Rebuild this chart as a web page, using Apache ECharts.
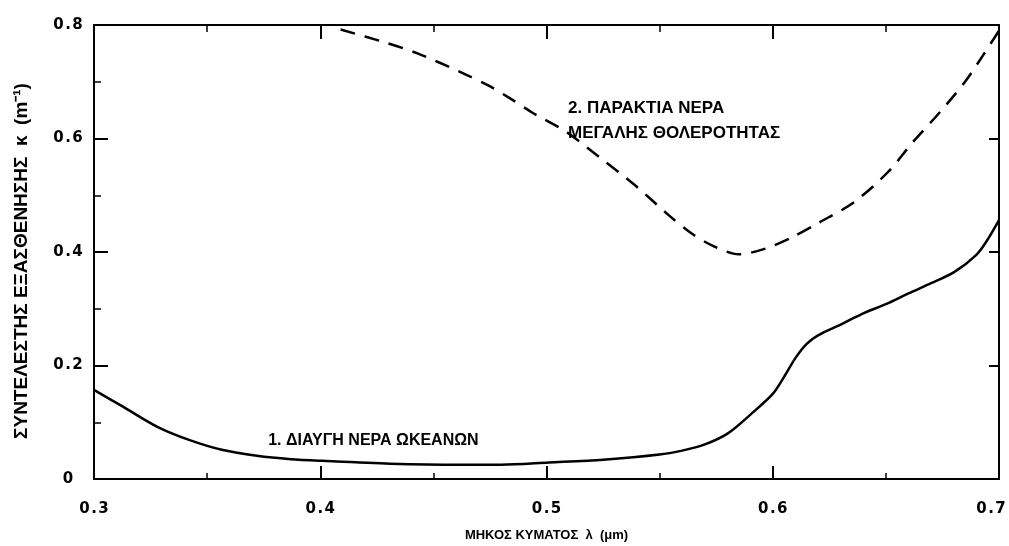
<!DOCTYPE html>
<html>
<head>
<meta charset="utf-8">
<script src="https://cdn.jsdelivr.net/npm/echarts@6/dist/echarts.min.js"></script>
<style>
  html, body { margin: 0; padding: 0; background: #fff; }
  #chart { width: 1009px; height: 546px; }
</style>
</head>
<body>
<div id="chart"></div>
<script>
// Wavelength (μm) and extinction coefficient κ (m^-1) for clear ocean water
const clearWaveLen = [0.300, 0.313, 0.328, 0.342, 0.357, 0.372, 0.387, 0.401, 0.431, 0.461,
                      0.480, 0.501, 0.525, 0.550, 0.560, 0.570, 0.580, 0.590, 0.600, 0.605,
                      0.610, 0.615, 0.620, 0.630, 0.640, 0.650, 0.660, 0.670, 0.680, 0.690,
                      0.695, 0.700];
const clearKappa   = [0.157, 0.127, 0.092, 0.069, 0.051, 0.041, 0.035, 0.032, 0.027, 0.025,
                      0.025, 0.029, 0.034, 0.043, 0.050, 0.061, 0.080, 0.113, 0.150, 0.180,
                      0.213, 0.238, 0.253, 0.272, 0.292, 0.308, 0.327, 0.345, 0.364, 0.395,
                      0.422, 0.456];

// Wavelength (μm) and κ (m^-1) for highly turbid coastal water
const turbidWaveLen = [0.409, 0.428, 0.443, 0.462, 0.474, 0.483, 0.494, 0.509, 0.524, 0.539,
                       0.554, 0.564, 0.574, 0.585, 0.596, 0.608, 0.621, 0.636, 0.651, 0.662,
                       0.674, 0.685, 0.693, 0.700];
const turbidKappa   = [0.792, 0.770, 0.750, 0.717, 0.694, 0.673, 0.645, 0.611, 0.565, 0.518,
                       0.465, 0.433, 0.410, 0.396, 0.405, 0.425, 0.453, 0.488, 0.541, 0.594,
                       0.647, 0.700, 0.747, 0.790];

// Curve captions
const clearCaption  = '1. ΔΙΑΥΓΗ ΝΕΡΑ ΩΚΕΑΝΩΝ';
const turbidCaption = ['2. ΠΑΡΑΚΤΙΑ ΝΕΡΑ', 'ΜΕΓΑΛΗΣ ΘΟΛΕΡΟΤΗΤΑΣ'];

// Axis titles
const xTitle = 'ΜΗΚΟΣ ΚΥΜΑΤΟΣ  λ  (μm)';
const yTitle = 'ΣΥΝΤΕΛΕΣΤΗΣ ΕΞΑΣΘΕΝΗΣΗΣ  κ  (m⁻¹)';

const pairs = (xs, ys) => xs.map((x, i) => [x, ys[i]]);

// Tick numbers are typeset loosely: a hair space between characters
const spaced = s => s.split('').join('\u200A');

const INK = '#000';
const X_MAX = 0.7;
const frameLine = { show: true, onZero: false, lineStyle: { color: INK, width: 2 } };
const tickFont = { fontFamily: 'DejaVu Sans', fontWeight: 'bold', fontSize: 15, color: INK };
const captionFont = { fontFamily: 'Liberation Sans', fontWeight: 'bold', color: INK };

const chart = echarts.init(document.getElementById('chart'), null, { renderer: 'canvas' });

chart.setOption({
  animation: false,
  backgroundColor: '#fff',
  grid: { left: 94, right: 10, top: 25, bottom: 67, containLabel: false, outerBoundsMode: 'none' },
  xAxis: [
    {
      type: 'value', position: 'bottom', min: 0.3, max: X_MAX, interval: 0.1,
      axisLine: frameLine,
      axisTick: { show: true, inside: true, length: 13, lineStyle: { color: INK, width: 2 } },
      minorTick: { show: true, splitNumber: 2, length: 6, lineStyle: { color: INK, width: 1.5 } },
      splitLine: { show: false }, minorSplitLine: { show: false },
      axisLabel: Object.assign({
        margin: 23,
        // the last number is pulled in so it stays on the page
        formatter: v => (Math.abs(v - X_MAX) < 1e-9 ? '{edge|' + spaced(v.toFixed(1)) + '}' : spaced(v.toFixed(1))),
        rich: { edge: Object.assign({ padding: [0, 16, 0, 0] }, tickFont) }
      }, tickFont),
      name: xTitle, nameLocation: 'middle', nameGap: 50,
      nameTextStyle: { fontFamily: 'Liberation Sans', fontWeight: 'bold', fontSize: 13, color: INK }
    },
    {
      type: 'value', position: 'top', min: 0.3, max: X_MAX, interval: 0.1,
      axisLine: frameLine,
      axisTick: { show: true, inside: true, length: 14, lineStyle: { color: INK, width: 2 } },
      minorTick: { show: true, splitNumber: 2, length: 7, lineStyle: { color: INK, width: 1.5 } },
      splitLine: { show: false }, minorSplitLine: { show: false },
      axisLabel: { show: false }
    }
  ],
  yAxis: [
    {
      type: 'value', position: 'left', min: 0, max: 0.8, interval: 0.2,
      axisLine: frameLine,
      axisTick: { show: true, inside: true, length: 14, lineStyle: { color: INK, width: 2 } },
      minorTick: { show: true, splitNumber: 2, length: 7, lineStyle: { color: INK, width: 1.5 } },
      splitLine: { show: false }, minorSplitLine: { show: false },
      axisLabel: Object.assign({ margin: 26, align: 'center', formatter: v => (v === 0 ? '0' : spaced(v.toFixed(1))) }, tickFont),
      name: yTitle, nameLocation: 'middle', nameGap: 63, nameRotate: 90,
      nameTextStyle: { fontFamily: 'Liberation Sans', fontWeight: 'bold', fontSize: 19, color: INK, padding: [0, 18, 0, 0] }
    },
    {
      type: 'value', position: 'right', min: 0, max: 0.8, interval: 0.2,
      axisLine: frameLine,
      axisTick: { show: true, inside: true, length: 10, lineStyle: { color: INK, width: 2 } },
      splitLine: { show: false },
      axisLabel: { show: false }
    }
  ],
  series: [
    {
      name: clearCaption, type: 'line', xAxisIndex: 0, yAxisIndex: 0,
      data: pairs(clearWaveLen, clearKappa),
      smooth: 0.3, showSymbol: false, symbol: 'none',
      lineStyle: { color: INK, width: 2.5 },
      markPoint: {
        symbol: 'circle', symbolSize: 0, silent: true,
        data: [{
          coord: [0.377, 0.081],
          label: Object.assign({
            show: true, position: [0, 0], align: 'left', verticalAlign: 'top',
            fontSize: 16, formatter: clearCaption
          }, captionFont)
        }]
      }
    },
    {
      name: turbidCaption.join(' '), type: 'line', xAxisIndex: 0, yAxisIndex: 0,
      data: pairs(turbidWaveLen, turbidKappa),
      smooth: 0.3, showSymbol: false, symbol: 'none',
      lineStyle: { color: INK, width: 2.5, type: [15, 10] },
      markPoint: {
        symbol: 'circle', symbolSize: 0, silent: true,
        data: [{
          coord: [0.5095, 0.676],
          label: Object.assign({
            show: true, position: [0, 0], align: 'left', verticalAlign: 'top',
            fontSize: 17, lineHeight: 25, formatter: turbidCaption.join('\n')
          }, captionFont)
        }]
      }
    }
  ]
});
</script>
</body>
</html>
